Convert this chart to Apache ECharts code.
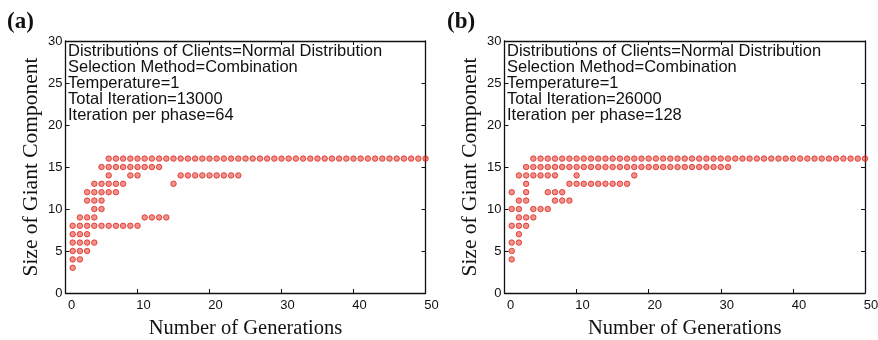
<!DOCTYPE html>
<html>
<head>
<meta charset="utf-8">
<script src="https://cdn.jsdelivr.net/npm/echarts@6/dist/echarts.min.js"></script>
<style>
  html, body { margin: 0; padding: 0; background: #fff; }
  #chart { width: 878px; height: 340px; }
</style>
</head>
<body>
<div id="chart"></div>
<script>
// size of giant component (rows) and the generations where a point shows up
const sizeA = [16, 15, 14, 13, 12, 11, 10, 9, 8, 7, 6, 5, 4, 3];
const gensA = [
  [6, 7, 8, 9, 10, 11, 12, 13, 14, 15, 16, 17, 18, 19, 20, 21, 22, 23, 24, 25, 26, 27, 28,
   29, 30, 31, 32, 33, 34, 35, 36, 37, 38, 39, 40, 41, 42, 43, 44, 45, 46, 47, 48, 49, 50],
  [5, 6, 7, 8, 9, 10, 11, 12, 13],
  [6, 9, 10, 16, 17, 18, 19, 20, 21, 22, 23, 24],
  [4, 5, 6, 7, 8, 15],
  [3, 4, 5, 6, 7],
  [3, 4, 5],
  [4, 5],
  [2, 3, 4, 11, 12, 13, 14],
  [1, 2, 3, 4, 5, 6, 7, 8, 9, 10],
  [1, 2, 3],
  [1, 2, 3, 4],
  [1, 2, 3],
  [1, 2],
  [1]
];

const sizeB = [16, 15, 14, 13, 12, 11, 10, 9, 8, 7, 6, 5, 4];
const gensB = [
  [4, 5, 6, 7, 8, 9, 10, 11, 12, 13, 14, 15, 16, 17, 18, 19, 20, 21, 22, 23, 24, 25, 26, 27,
   28, 29, 30, 31, 32, 33, 34, 35, 36, 37, 38, 39, 40, 41, 42, 43, 44, 45, 46, 47, 48, 49, 50],
  [3, 4, 5, 6, 7, 8, 9, 10, 11, 12, 13, 14, 15, 16, 17, 18, 19, 20, 21, 22, 23, 24, 25, 26,
   27, 28, 29, 30, 31],
  [2, 3, 4, 5, 6, 7, 10, 18],
  [3, 9, 10, 11, 12, 13, 14, 15, 16, 17],
  [1, 3, 6, 7, 8],
  [2, 3, 7, 8, 9],
  [1, 2, 4, 5, 6],
  [2, 3, 4],
  [1, 2, 3],
  [2],
  [1, 2],
  [1],
  [1]
];

const notesA = ['Distributions of Clients=Normal Distribution', 'Selection Method=Combination',
  'Temperature=1', 'Total Iteration=13000', 'Iteration per phase=64'];
const notesB = ['Distributions of Clients=Normal Distribution', 'Selection Method=Combination',
  'Temperature=1', 'Total Iteration=26000', 'Iteration per phase=128'];

const toPoints = (sizes, gens) => {
  let pts = [];
  sizes.forEach(function (s, i) {
    gens[i].forEach(function (g) { pts.push([g, s]); });
  });
  return pts;
};

const SANS = '"Liberation Sans", Arial, Helvetica, sans-serif';
const SERIF = '"Liberation Serif", "Times New Roman", serif';
const lineStyle = { color: '#111', width: 1.3 };

const makeX = (grid, pos, main) => ({
  type: 'value', gridIndex: grid, position: pos, min: 0, max: 50, interval: 10,
  name: main ? 'Number of Generations' : '',
  nameLocation: 'middle', nameGap: 25,
  nameTextStyle: { fontFamily: SERIF, fontSize: 20.5, color: '#111' },
  axisLine: { show: true, onZero: false, lineStyle: lineStyle },
  axisTick: { show: true, inside: true, length: 4, lineStyle: { color: '#111' } },
  axisLabel: { show: main, margin: 6, fontFamily: SANS, fontSize: 13, color: '#111', padding: [0, 0, 0, 12] },
  splitLine: { show: false }
});

const makeY = (grid, pos, main) => ({
  type: 'value', gridIndex: grid, position: pos, min: 0, max: 30, interval: 5,
  name: main ? 'Size of Giant Component' : '',
  nameLocation: 'middle', nameGap: 23,
  nameTextStyle: { fontFamily: SERIF, fontSize: 21.5, color: '#111' },
  axisLine: { show: true, onZero: false, lineStyle: lineStyle },
  axisTick: { show: true, inside: true, length: 4, lineStyle: { color: '#111' } },
  axisLabel: { show: main, margin: 3, fontFamily: SANS, fontSize: 13, color: '#111' },
  splitLine: { show: false }
});

const dotStyle = {
  color: 'rgba(225,45,35,0.65)',
  borderColor: '#de261c',
  borderWidth: 1
};

const chart = echarts.init(document.getElementById('chart'), null, { renderer: 'canvas' });
chart.setOption({
  animation: false,
  backgroundColor: '#fff',
  title: [
    { text: '(a)', left: 2, top: 6, textStyle: { fontFamily: SERIF, fontWeight: 'bold', fontSize: 23, color: '#111' } },
    { text: '(b)', left: 442, top: 6, textStyle: { fontFamily: SERIF, fontWeight: 'bold', fontSize: 23, color: '#111' } },
    { text: notesA.join('\n'), left: 63, top: 38, textStyle: { fontFamily: SANS, fontWeight: 'normal', fontSize: 16.5, lineHeight: 16, color: '#111' } },
    { text: notesB.join('\n'), left: 502, top: 38, textStyle: { fontFamily: SANS, fontWeight: 'normal', fontSize: 16.5, lineHeight: 16, color: '#111' } }
  ],
  grid: [
    { left: 65.5, top: 41, width: 360, height: 252, outerBoundsMode: 'none', containLabel: false },
    { left: 504.5, top: 41, width: 360.5, height: 252, outerBoundsMode: 'none', containLabel: false }
  ],
  xAxis: [makeX(0, 'bottom', true), makeX(0, 'top', false), makeX(1, 'bottom', true), makeX(1, 'top', false)],
  yAxis: [makeY(0, 'left', true), makeY(0, 'right', false), makeY(1, 'left', true), makeY(1, 'right', false)],
  series: [
    { type: 'scatter', xAxisIndex: 0, yAxisIndex: 0, symbolSize: 5.5, itemStyle: dotStyle, data: toPoints(sizeA, gensA) },
    { type: 'scatter', xAxisIndex: 2, yAxisIndex: 2, symbolSize: 5.5, itemStyle: dotStyle, data: toPoints(sizeB, gensB) }
  ]
});
</script>
</body>
</html>
